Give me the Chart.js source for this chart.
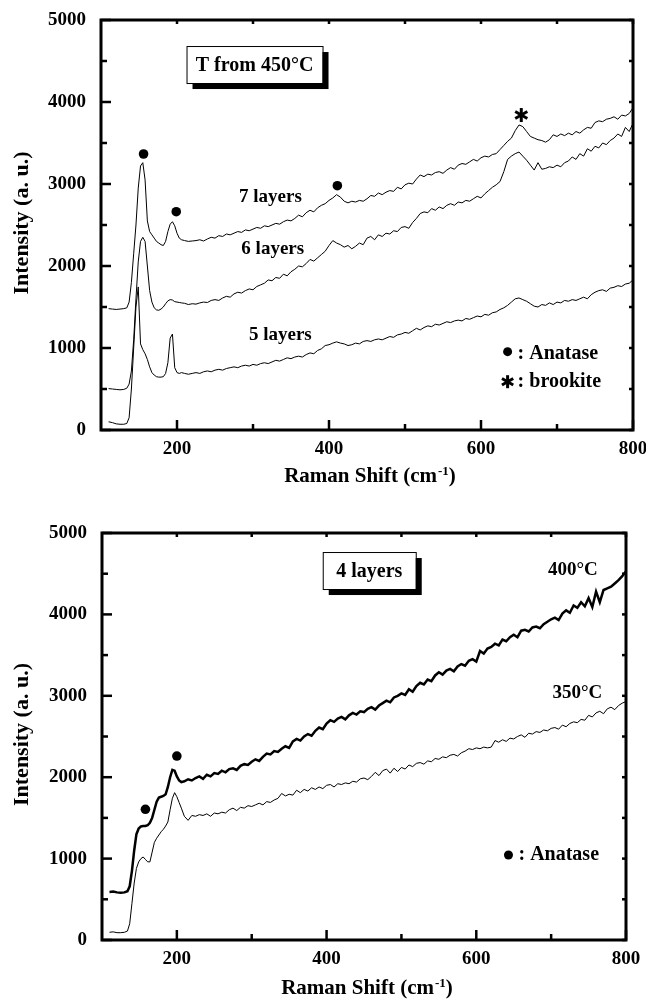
<!DOCTYPE html>
<html>
<head>
<meta charset="utf-8">
<title>Raman spectra</title>
<script src="https://cdn.jsdelivr.net/npm/chart.js@4/dist/chart.umd.min.js"></script>
<style>
  html, body { margin: 0; padding: 0; background: #fff; }
  #wrap { position: relative; width: 646px; height: 1000px; }
  canvas { position: absolute; left: 0; }
  #topChart { top: 0; }
  #bottomChart { top: 490px; }
</style>
</head>
<body>
<div id="wrap">
  <canvas id="topChart" width="646" height="490"></canvas>
  <canvas id="bottomChart" width="646" height="510"></canvas>
</div>
<script>
// Raman shift (cm-1) shared by every spectrum
const ramanShift = [
  110, 115, 120, 125, 130, 134, 137, 140, 143, 146,
  149, 152, 155, 158, 161, 164, 167, 170, 173, 176,
  179, 182, 185, 188, 191, 194, 197, 200, 203, 206,
  210, 215, 220, 225, 230, 235, 240, 245, 250, 255,
  260, 265, 270, 275, 280, 285, 290, 295, 300, 305,
  310, 315, 320, 325, 330, 335, 340, 345, 350, 355,
  360, 365, 370, 375, 380, 385, 390, 395, 400, 405,
  410, 415, 420, 425, 430, 435, 440, 445, 450, 455,
  460, 465, 470, 475, 480, 485, 490, 495, 500, 505,
  510, 515, 520, 525, 530, 535, 540, 545, 550, 555,
  560, 565, 570, 575, 580, 585, 590, 595, 600, 605,
  610, 615, 620, 625, 630, 635, 640, 645, 650, 655,
  660, 665, 670, 675, 680, 685, 690, 695, 700, 705,
  710, 715, 720, 725, 730, 735, 740, 745, 750, 755,
  760, 765, 770, 775, 780, 785, 790, 795, 800
];

// top panel: T from 450°C
const layers7 = [
  1480, 1475, 1470, 1475, 1480, 1490, 1560, 1800, 2150, 2500,
  2950, 3220, 3260, 3050, 2550, 2420, 2380, 2340, 2300, 2280,
  2260, 2250, 2300, 2420, 2510, 2540, 2490, 2400, 2340, 2320,
  2310, 2300, 2305, 2310, 2320, 2305, 2330, 2350, 2340, 2370,
  2360, 2390, 2380, 2400, 2420, 2410, 2440, 2430, 2450, 2470,
  2460, 2490, 2480, 2500, 2520, 2510, 2540, 2560, 2550, 2580,
  2620, 2600, 2650, 2680, 2660, 2710, 2740, 2760, 2800, 2830,
  2870, 2840, 2790, 2770, 2790, 2780, 2800, 2790, 2820, 2860,
  2850, 2890, 2870, 2900, 2920, 2910, 2960, 2940, 2990, 3010,
  3000, 3060, 3110, 3090, 3120, 3110, 3140, 3150, 3130, 3170,
  3200, 3180, 3230, 3250, 3240, 3270, 3300, 3280, 3320, 3340,
  3330, 3360, 3370, 3420, 3470, 3520, 3560, 3650, 3720, 3700,
  3640, 3580, 3560, 3540, 3530, 3510, 3540, 3600, 3580, 3610,
  3590, 3620, 3600, 3640, 3620, 3660, 3690, 3680, 3750, 3770,
  3760, 3790, 3800, 3820, 3790, 3840, 3830, 3860, 3930
];
const layers6 = [
  505, 500, 495, 490, 495, 510, 560, 720, 1100, 1600,
  2050, 2300, 2350, 2300, 2000, 1700, 1560, 1490, 1465, 1460,
  1475, 1500, 1540, 1575, 1590, 1585, 1565, 1560, 1555, 1550,
  1545, 1530, 1540, 1535, 1550, 1560, 1555, 1580, 1590, 1580,
  1610, 1630, 1620, 1660, 1680, 1670, 1700, 1720, 1710, 1750,
  1770, 1790, 1830, 1820, 1860, 1850, 1900, 1880, 1930, 1960,
  2000, 1990, 2030, 2080, 2060, 2100, 2140, 2180, 2250, 2310,
  2280, 2260, 2230, 2250, 2210, 2240, 2280, 2260, 2340, 2360,
  2320, 2380, 2360, 2400, 2390, 2430, 2420, 2470, 2480, 2460,
  2530, 2580, 2640, 2660, 2650, 2700, 2680, 2720, 2700, 2740,
  2760, 2740, 2780, 2770, 2800, 2790, 2820, 2850, 2830, 2880,
  2920, 2960, 2990, 3030, 3150, 3300, 3340, 3370, 3390, 3340,
  3290, 3230, 3170, 3260, 3180, 3190, 3210, 3200, 3230, 3210,
  3260, 3280, 3330, 3300, 3370, 3340, 3430, 3400, 3460, 3440,
  3500, 3480, 3530, 3560, 3610, 3580, 3690, 3640, 3740
];
const layers5 = [
  100, 90, 75, 70, 70, 80, 150, 500, 1000, 1500,
  1745, 1050, 980, 930, 860, 770, 700, 670, 650, 645,
  645, 650, 690, 820, 1120, 1170, 760, 700, 690, 700,
  690, 680, 690, 700, 690, 710, 720, 710, 730, 740,
  730, 750, 760, 770, 760, 780, 790, 780, 800, 790,
  810, 820, 810, 830, 850, 840, 860, 880, 870, 890,
  900, 890, 920, 940, 930, 970, 990, 1030, 1040, 1060,
  1075, 1060, 1050, 1030, 1040, 1060, 1050, 1080, 1090, 1080,
  1100, 1110, 1100, 1120, 1140, 1130, 1160, 1170, 1190, 1180,
  1210, 1240, 1220, 1250, 1270, 1260, 1290, 1280, 1300, 1320,
  1310, 1330, 1340, 1330, 1360, 1350, 1370, 1390, 1380, 1410,
  1400, 1430, 1440, 1470, 1490, 1520, 1560, 1600, 1610, 1590,
  1570, 1540, 1510, 1500, 1530, 1520, 1550, 1530, 1560, 1550,
  1580, 1570, 1590, 1580, 1600, 1620, 1600, 1650, 1680, 1700,
  1710, 1690, 1730, 1740, 1760, 1750, 1780, 1790, 1830
];

// bottom panel: 4 layers
const temp400 = [
  590, 595, 585, 580, 585, 600, 660, 850, 1100, 1300,
  1370, 1395, 1400, 1400, 1410, 1440, 1500, 1600, 1700, 1750,
  1760, 1770, 1790, 1880, 2000, 2090, 2080, 2010, 1960, 1940,
  1950, 1975, 1960, 1990, 2010, 1980, 2030, 2010, 2050, 2040,
  2080, 2060, 2100, 2110, 2090, 2140, 2160, 2150, 2190, 2220,
  2200, 2250, 2290, 2280, 2320, 2310, 2350, 2380, 2360, 2440,
  2470, 2450, 2500, 2530, 2510, 2570, 2610, 2590, 2660, 2700,
  2680, 2720, 2740, 2710, 2760, 2790, 2770, 2810, 2800, 2840,
  2860, 2830, 2880, 2910, 2940, 2920, 2980, 3000, 3030, 3010,
  3080, 3050, 3120, 3160, 3140, 3200, 3180, 3250, 3290, 3260,
  3310, 3330, 3300, 3360, 3390, 3370, 3430, 3450, 3420, 3550,
  3520, 3580, 3600, 3640, 3620, 3690, 3670, 3720, 3750, 3720,
  3800, 3810, 3790, 3840, 3850, 3830, 3880, 3910, 3940, 3960,
  3930, 4010, 4050, 4020, 4110, 4080, 4150, 4100, 4200, 4090,
  4280, 4150, 4300, 4320, 4340, 4380, 4420, 4470, 4530
];
const temp350 = [
  95, 100, 90, 90, 95, 110, 200, 450, 700, 880,
  960, 1000, 1020, 990, 960, 960, 1080, 1200, 1250, 1290,
  1330, 1360, 1400, 1450, 1600, 1740, 1810, 1760, 1690, 1620,
  1520, 1470, 1530, 1520, 1540, 1530, 1550, 1520, 1560, 1550,
  1570, 1560, 1600, 1620, 1590, 1630, 1620, 1650, 1640, 1660,
  1680, 1660, 1700, 1690, 1720, 1740, 1800, 1770, 1790, 1780,
  1840, 1810, 1850, 1830, 1870, 1850, 1880, 1860, 1900, 1910,
  1880, 1920, 1910, 1930, 1920, 1950, 1940, 1980, 1990, 1970,
  2010, 2060, 2020, 2080, 2100, 2050, 2110, 2070, 2120, 2100,
  2150, 2130, 2170, 2180, 2160, 2200, 2190, 2230, 2220, 2250,
  2240, 2270, 2280, 2260, 2300, 2320, 2350, 2340, 2360, 2350,
  2370, 2360, 2370, 2450, 2430, 2460, 2440, 2480, 2470, 2500,
  2520, 2490, 2540, 2530, 2560, 2550, 2580, 2570, 2600, 2610,
  2590, 2640, 2620, 2660, 2680, 2670, 2710, 2700, 2760, 2740,
  2790, 2810, 2780, 2840, 2860, 2830, 2880, 2910, 2930
];

const xTickValues = [200, 400, 600, 800];
const xMinorValues = [300, 500, 700];
const yTickValues = [0, 1000, 2000, 3000, 4000, 5000];
const yMinorValues = [500, 1500, 2500, 3500, 4500];

const SERIF = '"Liberation Serif", "Times New Roman", serif';

function toPoints(ys) {
  if (ys.length !== ramanShift.length) console.warn('length mismatch', ys.length);
  return ramanShift.map((x, i) => ({ x: x, y: ys[i] }));
}

function line(ys, width) {
  return {
    data: toPoints(ys),
    borderColor: '#000',
    borderWidth: width,
    pointRadius: 0,
    tension: 0,
    fill: false
  };
}

function drawStar(ctx, cx, cy, r) {
  ctx.save();
  ctx.lineWidth = 3;
  ctx.lineCap = 'butt';
  for (let k = 0; k < 3; k++) {
    const ang = Math.PI / 2 + k * Math.PI / 3;
    ctx.beginPath();
    ctx.moveTo(cx - r * Math.cos(ang), cy - r * Math.sin(ang));
    ctx.lineTo(cx + r * Math.cos(ang), cy + r * Math.sin(ang));
    ctx.stroke();
  }
  ctx.restore();
}

function drawDot(ctx, cx, cy, r) {
  ctx.beginPath();
  ctx.arc(cx, cy, r, 0, Math.PI * 2);
  ctx.fill();
}

// frame, inward ticks, axis titles and annotations
const decorPlugin = {
  id: 'decor',
  afterDraw(chart, args, opts) {
    const ctx = chart.ctx;
    const a = chart.chartArea;
    const xs = chart.scales.x;
    const ys = chart.scales.y;
    ctx.save();
    ctx.strokeStyle = '#000';
    ctx.fillStyle = '#000';

    ctx.lineWidth = 3;
    ctx.strokeRect(a.left, a.top, a.right - a.left, a.bottom - a.top);

    ctx.lineWidth = 2.5;
    const seg = (x1, y1, x2, y2) => {
      ctx.beginPath(); ctx.moveTo(x1, y1); ctx.lineTo(x2, y2); ctx.stroke();
    };
    xTickValues.concat(xMinorValues).forEach(v => {
      const px = xs.getPixelForValue(v);
      const len = xTickValues.includes(v) ? 10 : 6;
      seg(px, a.bottom, px, a.bottom - len);
      seg(px, a.top, px, a.top + 4);
    });
    yTickValues.concat(yMinorValues).forEach(v => {
      const py = ys.getPixelForValue(v);
      const len = yTickValues.includes(v) ? 10 : 6;
      seg(a.left, py, a.left + len, py);
      seg(a.right, py, a.right - 4, py);
    });

    // x title with superscript
    ctx.textBaseline = 'alphabetic';
    ctx.textAlign = 'left';
    const main = 'Raman Shift (cm';
    ctx.font = 'bold 21px ' + SERIF;
    const w1 = ctx.measureText(main).width;
    const w3 = ctx.measureText(')').width;
    ctx.font = 'bold 13px ' + SERIF;
    const w2 = ctx.measureText('-1').width;
    const total = w1 + w2 + w3 + 1;
    let tx = (a.left + a.right) / 2 + 3 - total / 2;
    const tb = a.bottom + opts.titleGap;
    ctx.font = 'bold 21px ' + SERIF;
    ctx.fillText(main, tx, tb);
    ctx.font = 'bold 13px ' + SERIF;
    ctx.fillText('-1', tx + w1 + 1, tb - 7);
    ctx.font = 'bold 21px ' + SERIF;
    ctx.fillText(')', tx + w1 + w2 + 1, tb);

    // y title
    ctx.save();
    ctx.translate(28, (a.top + a.bottom) / 2 - 2);
    ctx.rotate(-Math.PI / 2);
    ctx.textAlign = 'center';
    ctx.font = 'bold 22px ' + SERIF;
    ctx.fillText('Intensity (a. u.)', 0, 0);
    ctx.restore();

    // boxed panel title with drop shadow
    const b = opts.box;
    const bx = xs.getPixelForValue(b.x) - b.w / 2;
    const by = ys.getPixelForValue(b.y) - b.h / 2;
    ctx.fillRect(bx + 6, by + 6, b.w, b.h);
    ctx.fillStyle = '#fff';
    ctx.fillRect(bx, by, b.w, b.h);
    ctx.fillStyle = '#000';
    ctx.lineWidth = 1;
    ctx.strokeRect(bx + 0.5, by + 0.5, b.w, b.h);
    ctx.font = 'bold 20px ' + SERIF;
    ctx.textAlign = 'center';
    ctx.textBaseline = 'middle';
    ctx.fillText(b.text, bx + b.w / 2, by + b.h / 2 + 1);

    // curve labels (baseline anchored)
    ctx.font = 'bold 19px ' + SERIF;
    ctx.textBaseline = 'alphabetic';
    opts.labels.forEach(l => {
      ctx.fillText(l.text, xs.getPixelForValue(l.x), ys.getPixelForValue(l.y));
    });

    // peak markers
    opts.dots.forEach(d => drawDot(ctx, xs.getPixelForValue(d.x), ys.getPixelForValue(d.y), 4.8));
    opts.stars.forEach(s => drawStar(ctx, xs.getPixelForValue(s.x), ys.getPixelForValue(s.y), 7));

    // marker key
    ctx.font = 'bold 20px ' + SERIF;
    ctx.textAlign = 'left';
    opts.key.forEach(k => {
      const kx = xs.getPixelForValue(k.x);
      const ky = ys.getPixelForValue(k.y);
      if (k.mark === 'dot') drawDot(ctx, kx, ky, 4.5);
      else drawStar(ctx, kx, ky, 6.5);
      ctx.fillText(k.text, kx + 10, ky + k.dy);
    });

    ctx.restore();
  }
};

function makeChart(id, datasets, pad, decor) {
  const tickFont = { family: SERIF, size: 19, weight: 'bold' };
  return new Chart(document.getElementById(id), {
    type: 'line',
    data: { datasets: datasets },
    options: {
      responsive: false,
      animation: false,
      layout: { padding: { top: pad.top, right: pad.right, left: 0, bottom: 0 } },
      plugins: {
        legend: { display: false },
        tooltip: { enabled: false },
        decor: decor
      },
      scales: {
        x: {
          type: 'linear',
          min: 100,
          max: 800,
          grid: { display: false, drawTicks: false },
          border: { display: false },
          ticks: { font: tickFont, color: '#000', padding: 8, callback: v => String(v) },
          afterBuildTicks: s => { s.ticks = xTickValues.map(v => ({ value: v })); },
          afterFit: s => { s.height = pad.bottom; s.paddingLeft = 0; s.paddingRight = 0; }
        },
        y: {
          type: 'linear',
          min: 0,
          max: 5000,
          grid: { display: false, drawTicks: false },
          border: { display: false },
          ticks: { font: tickFont, color: '#000', padding: 15, callback: v => String(v) },
          afterBuildTicks: s => { s.ticks = yTickValues.map(v => ({ value: v })); },
          afterFit: s => { s.width = pad.left; s.paddingTop = 0; s.paddingBottom = 0; }
        }
      }
    },
    plugins: [decorPlugin]
  });
}

makeChart('topChart',
  [line(layers7, 1), line(layers6, 1), line(layers5, 1)],
  { top: 20, right: 13, left: 101, bottom: 60 },
  {
    titleGap: 52,
    box: { text: 'T from 450\u00B0C', x: 302, y: 4457, w: 136, h: 37 },
    labels: [
      { text: '7 layers', x: 323, y: 2784 },
      { text: '6 layers', x: 326, y: 2146 },
      { text: '5 layers', x: 336, y: 1098 }
    ],
    dots: [{ x: 156, y: 3366 }, { x: 199, y: 2662 }, { x: 411, y: 2979 }],
    stars: [{ x: 653, y: 3841 }],
    key: [
      { mark: 'dot', x: 635, y: 955, text: ': Anatase', dy: 7 },
      { mark: 'star', x: 635, y: 589, text: ': brookite', dy: 5 }
    ]
  });

makeChart('bottomChart',
  [line(temp400, 2.5), line(temp350, 1)],
  { top: 43, right: 20, left: 102, bottom: 60 },
  {
    titleGap: 54,
    box: { text: '4 layers', x: 457, y: 4539, w: 93, h: 37 },
    labels: [
      { text: '400\u00B0C', x: 729, y: 4484 },
      { text: '350\u00B0C', x: 735, y: 2973 }
    ],
    dots: [{ x: 158, y: 1606 }, { x: 200, y: 2260 }],
    stars: [],
    key: [
      { mark: 'dot', x: 643, y: 1044, text: ': Anatase', dy: 5 }
    ]
  });
</script>
</body>
</html>
